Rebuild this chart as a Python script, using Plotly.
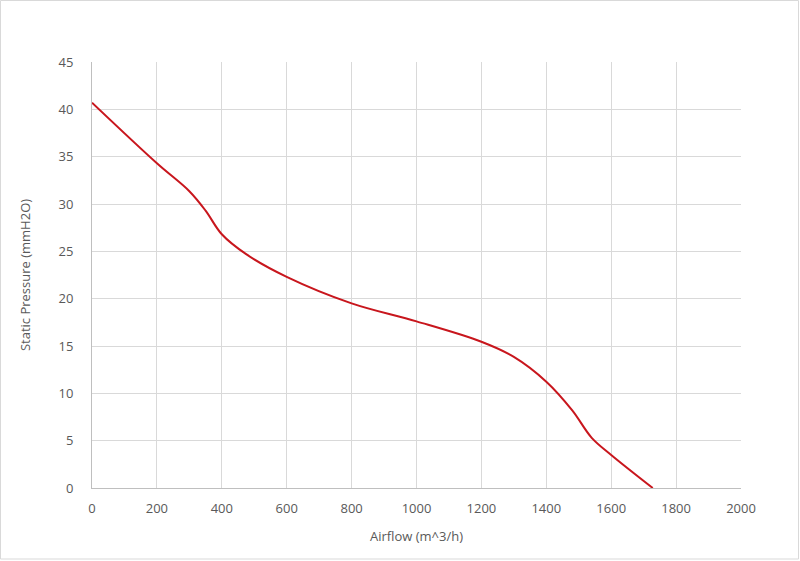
import plotly.graph_objects as go

airflow = [0, 200, 300, 350, 400, 475, 600, 800, 1000, 1200, 1300, 1400, 1480, 1540, 1600, 1728]
pressure = [40.7, 34.3, 31.35, 29.3, 26.8, 24.7, 22.3, 19.5, 17.6, 15.45, 13.85, 11.23, 8.2, 5.3, 3.49, 0.0]

x_title = "Airflow (m^3/h)"
y_title = "Static Pressure (mmH2O)"

FONT = "Open Sans, DejaVu Sans, sans-serif"
GRID = "#d9d9d9"
TXT = "#595959"

fig = go.Figure()
fig.add_trace(go.Scatter(
    x=airflow, y=pressure, mode="lines",
    line=dict(color="#c8161d", width=2, shape="spline", smoothing=1.0),
    hoverinfo="skip", showlegend=False,
))

L, R, T, B = 92, 59, 62, 73
W, H = 800, 561
pw, ph = W - L - R, H - T - B

fig.update_layout(
    width=W, height=H,
    margin=dict(l=L, r=R, t=T, b=B, pad=0),
    paper_bgcolor="white", plot_bgcolor="white",
    font=dict(family=FONT, size=13, color=TXT),
    xaxis=dict(
        range=[0, 2000], dtick=200, tick0=0,
        showgrid=True, gridcolor=GRID, gridwidth=1,
        zeroline=False, showline=True, linecolor="#bfbfbf", linewidth=1,
        ticks="", ticklabelstandoff=8,
        tickfont=dict(size=13, color=TXT),
        title=dict(text=x_title, font=dict(size=13, color=TXT), standoff=16),
        fixedrange=True,
    ),
    yaxis=dict(
        range=[0, 45], dtick=5, tick0=0,
        showgrid=True, gridcolor=GRID, gridwidth=1,
        zeroline=False, showline=True, linecolor="#bfbfbf", linewidth=1,
        ticks="", ticklabelstandoff=15,
        tickfont=dict(size=13, color=TXT),
        title=dict(text=y_title, font=dict(size=13, color=TXT), standoff=24),
        fixedrange=True,
    ),
    shapes=[dict(
        type="rect", xref="paper", yref="paper",
        x0=(0.5 - L) / pw, x1=(798.5 - L) / pw,
        y0=(T + ph - 559) / ph, y1=(T + ph - 0.5) / ph,
        line=dict(color="#d9d9d9", width=1), fillcolor="rgba(0,0,0,0)",
        layer="below",
    )],
)

fig.write_html(
    "out.html",
    config={"displayModeBar": False},
    post_script="document.body.style.margin='0';document.body.style.overflow='hidden';",
)
